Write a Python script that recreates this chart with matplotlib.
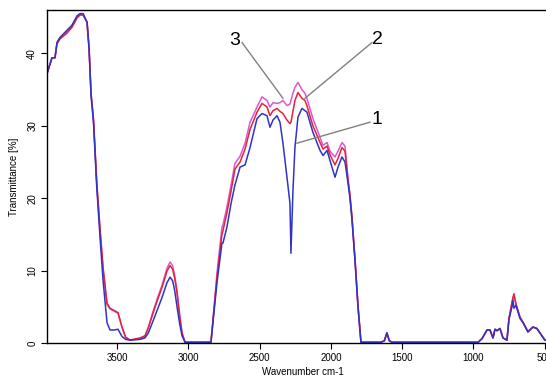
import matplotlib.pyplot as plt

plt.rcParams['font.family'] = ['Liberation Sans', 'DejaVu Sans']

# wavenumbers (cm-1) shared by the three spectra
wavenumber = [3991, 3956, 3935, 3921, 3900, 3851, 3816, 3780, 3759, 3738,
              3710, 3696, 3682, 3665, 3642, 3619, 3598, 3570, 3549, 3520,
              3493, 3465, 3440, 3409, 3339, 3304, 3280, 3248, 3215, 3184,
              3150, 3128, 3110, 3095, 3079, 3060,
              3044, 3023, 2950, 2841, 2799, 2764, 2757, 2729, 2700, 2673,
              2637, 2602, 2567, 2518, 2483, 2448, 2427, 2406, 2378, 2357,
              2336, 2308, 2287, 2280, 2266, 2252, 2231, 2203, 2182, 2168,
              2126, 2076, 2055, 2027, 2006, 1971, 1950, 1922, 1901, 1880,
              1866, 1852, 1831, 1810, 1789, 1650, 1625, 1607, 1590, 1570,
              968, 940, 905, 884, 863, 849, 835, 814, 793, 765,
              751, 730, 723, 716, 702, 674, 653, 618, 583, 555,
              534, 499, 470]

spectrum_1 = [37.2, 39.4, 39.4, 41.5, 42.2, 43.2, 43.9, 45.2, 45.5, 45.5,
              44.3, 40.7, 34.2, 30.5, 21.5, 14.6, 8.7, 2.8, 1.8, 1.8,
              1.9, 0.9, 0.5, 0.4, 0.5, 0.7, 1.4, 3.0, 4.7, 6.3,
              8.3, 9.1, 8.6, 7.2, 5.0, 2.6,
              1.0, 0.1, 0.1, 0.1, 8.3, 13.8, 13.8, 16.0, 19.3, 21.8,
              24.3, 24.6, 27.0, 31.0, 31.7, 31.4, 29.8, 30.8, 31.4, 30.5,
              27.6, 22.9, 19.3, 12.4, 21.0, 27.0, 31.2, 32.4, 32.1, 31.9,
              29.1, 26.6, 25.9, 26.6, 25.2, 22.9, 24.3, 25.7, 25.0, 22.1,
              20.0, 17.0, 11.4, 5.0, 0.1, 0.1, 0.3, 1.4, 0.3, 0.1,
              0.1, 0.6, 1.8, 1.8, 0.7, 1.9, 1.7, 2.0, 0.7, 0.4,
              3.2, 5.0, 5.9, 4.8, 5.2, 3.4, 2.8, 1.5, 2.2, 2.0,
              1.4, 0.4, 0.3]

spectrum_2 = [37.2, 39.4, 39.4, 41.3, 42.0, 42.8, 43.6, 44.9, 45.3, 45.3,
              44.3, 40.7, 34.5, 31.0, 22.2, 15.8, 10.5, 5.5, 4.8, 4.5,
              4.2, 2.2, 0.8, 0.4, 0.7, 1.0, 2.1, 4.1, 6.0, 7.7,
              9.9, 10.7, 10.2, 8.9, 6.9, 3.6,
              1.4, 0.1, 0.1, 0.1, 9.0, 15.0, 15.5, 18.0, 21.0, 24.0,
              25.0, 26.8, 29.5, 31.9, 33.1, 32.6, 31.4, 32.1, 32.4, 32.0,
              31.7, 30.8, 30.3, 30.5, 32.0, 33.5, 34.6, 33.8, 33.5, 32.8,
              30.0, 27.7, 26.8, 27.2, 26.0, 24.6, 25.5, 27.0, 26.5, 22.5,
              20.3, 17.3, 11.6, 5.2, 0.1, 0.1, 0.3, 1.4, 0.3, 0.1,
              0.1, 0.6, 1.8, 1.8, 0.7, 1.9, 1.7, 2.0, 0.7, 0.4,
              3.4, 5.5, 6.3, 6.8, 5.4, 3.6, 2.9, 1.6, 2.2, 2.0,
              1.4, 0.4, 0.3]

spectrum_3 = [37.2, 39.4, 39.4, 41.5, 42.2, 43.0, 43.8, 45.1, 45.4, 45.4,
              44.3, 40.7, 34.4, 30.8, 22.0, 15.5, 10.2, 5.3, 4.7, 4.4,
              4.1, 2.2, 0.8, 0.4, 0.6, 0.9, 2.2, 4.3, 6.3, 8.0,
              10.3, 11.2, 10.7, 9.3, 7.2, 3.8,
              1.4, 0.1, 0.1, 0.1, 9.6, 16.0, 16.3, 18.8, 21.8, 24.8,
              25.8, 27.6, 30.5, 32.6, 34.0, 33.5, 32.6, 33.2, 33.1, 33.2,
              33.5, 32.8, 33.0, 33.5, 34.5, 35.3, 36.0, 35.0, 34.5, 33.8,
              31.0, 28.4, 27.3, 27.7, 26.5, 25.7, 26.5, 27.7, 27.2, 22.8,
              20.5, 17.5, 11.8, 5.3, 0.1, 0.1, 0.3, 1.4, 0.3, 0.1,
              0.1, 0.6, 1.8, 1.8, 0.7, 1.9, 1.7, 2.0, 0.7, 0.4,
              3.4, 5.6, 6.2, 6.5, 5.4, 3.6, 2.9, 1.6, 2.2, 2.0,
              1.4, 0.4, 0.3]

# curve labels: text position, line start, line end on the curve
labels = ['1', '2', '3']
label_text = [(1677, 30.9), (1670, 41.9), (2673, 41.8)]
label_start = [(1726, 30.5), (1712, 41.5), (2623, 41.5)]
label_tip = [(2238, 27.6), (2182, 33.8), (2336, 33.8)]

fig = plt.figure(figsize=(5.46, 3.80), dpi=100)
ax = fig.add_axes([47 / 546, 37 / 380, 512 / 546, 333 / 380])

ax.plot(wavenumber, spectrum_3, color='#d85ad0', lw=1.1)
ax.plot(wavenumber, spectrum_2, color='#e8203a', lw=1.1)
ax.plot(wavenumber, spectrum_1, color='#2f34c4', lw=1.1)

for lab, t, s, e in zip(labels, label_text, label_start, label_tip):
    ax.plot([s[0], e[0]], [s[1], e[1]], color='#808080', lw=1.0)
    ax.text(t[0], t[1], lab, fontsize=14, ha='center', va='center')

ax.set_xlim(3991, 400)
ax.set_ylim(0, 46)
ax.set_xticks([3500, 3000, 2500, 2000, 1500, 1000, 500])
ax.set_yticks([0, 10, 20, 30, 40])
ax.tick_params(direction='out', length=4, width=0.8, labelsize=7, pad=3)
for lbl in ax.get_yticklabels():
    lbl.set_rotation(90)
    lbl.set_va('center')
ax.spines['right'].set_visible(False)
for sp in ['left', 'bottom', 'top']:
    ax.spines[sp].set_linewidth(1.0)
ax.set_xlabel('Wavenumber cm-1', fontsize=7, labelpad=3)
ax.set_ylabel('Transmittance [%]', fontsize=7, labelpad=6)

fig.savefig('out.png', dpi=100)
